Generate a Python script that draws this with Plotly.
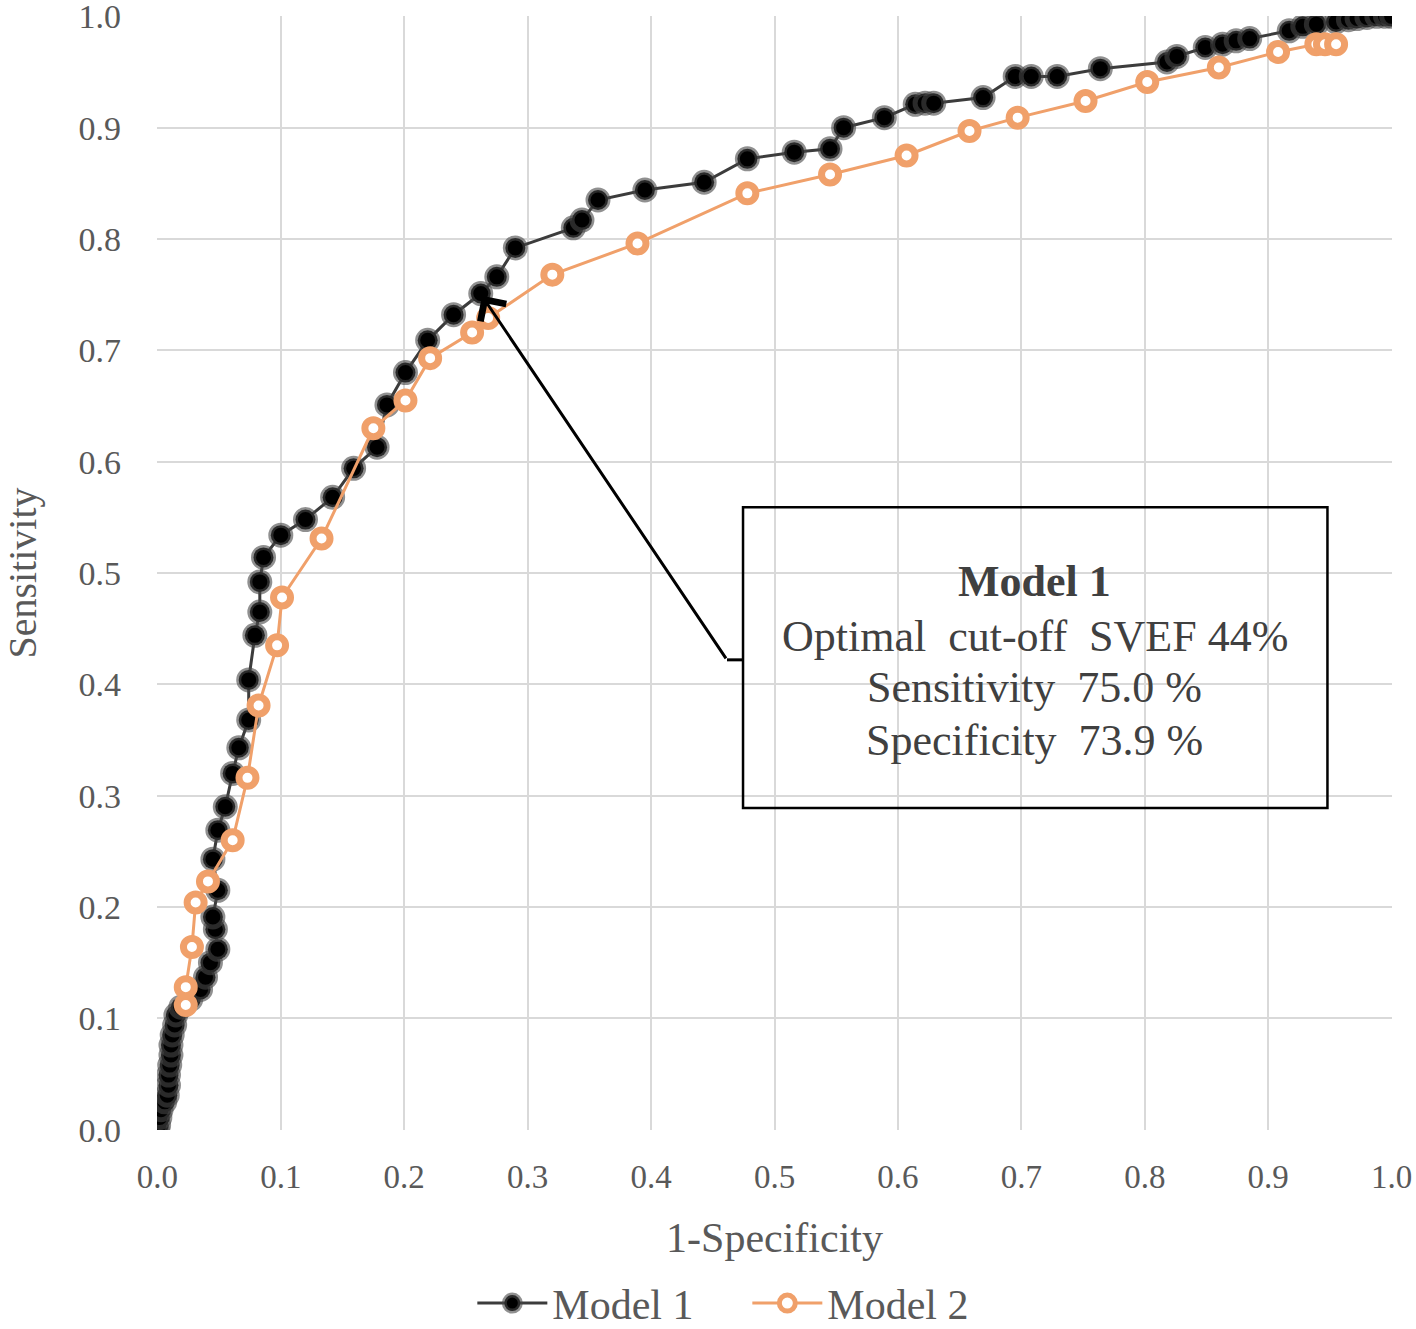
import plotly.graph_objects as go

# Model 1 ROC points (1-Specificity, Sensitivity)
m1_x = [0.000, 0.001, 0.002, 0.003, 0.006, 0.008, 0.009, 0.009, 0.010, 0.011,
        0.011, 0.012, 0.014, 0.015, 0.019, 0.027, 0.035, 0.039, 0.043, 0.049,
        0.047, 0.045, 0.049, 0.045, 0.049, 0.055, 0.061, 0.066, 0.074, 0.074,
        0.079, 0.083, 0.083, 0.086, 0.100, 0.120, 0.142, 0.159, 0.178, 0.186,
        0.201, 0.219, 0.240, 0.262, 0.275, 0.290, 0.337, 0.344, 0.357, 0.395,
        0.443, 0.478, 0.516, 0.545, 0.556, 0.589, 0.614, 0.622, 0.629, 0.669,
        0.695, 0.708, 0.729, 0.764, 0.818, 0.826, 0.849, 0.863, 0.874, 0.885,
        0.917, 0.928, 0.939, 0.955, 0.965, 0.972, 0.980, 0.988, 0.995, 1.000]
m1_y = [0.000, 0.004, 0.011, 0.018, 0.025, 0.031, 0.040, 0.049, 0.058, 0.067,
        0.076, 0.085, 0.094, 0.103, 0.110, 0.117, 0.126, 0.137, 0.150, 0.162,
        0.180, 0.191, 0.215, 0.243, 0.269, 0.290, 0.320, 0.343, 0.368, 0.404,
        0.444, 0.465, 0.492, 0.514, 0.534, 0.548, 0.568, 0.594, 0.613, 0.651,
        0.680, 0.709, 0.732, 0.751, 0.766, 0.792, 0.810, 0.817, 0.835, 0.844,
        0.851, 0.872, 0.878, 0.881, 0.900, 0.909, 0.921, 0.922, 0.922, 0.927,
        0.946, 0.946, 0.946, 0.953, 0.959, 0.964, 0.972, 0.975, 0.978, 0.980,
        0.987, 0.991, 0.993, 0.995, 0.997, 0.998, 0.999, 1.000, 1.000, 1.000]

# Model 2 ROC points
m2_x = [0.023, 0.023, 0.028, 0.031, 0.041, 0.061, 0.073, 0.082, 0.097, 0.101,
        0.133, 0.175, 0.201, 0.221, 0.255, 0.268, 0.320, 0.389, 0.478, 0.545,
        0.607, 0.658, 0.697, 0.752, 0.802, 0.860, 0.908, 0.939, 0.946, 0.955]
m2_y = [0.112, 0.128, 0.164, 0.204, 0.223, 0.260, 0.316, 0.381, 0.435, 0.478,
        0.531, 0.630, 0.655, 0.693, 0.716, 0.729, 0.768, 0.796, 0.841, 0.858,
        0.875, 0.897, 0.909, 0.924, 0.941, 0.954, 0.968, 0.975, 0.975, 0.975]

tick_vals = [0.0, 0.1, 0.2, 0.3, 0.4, 0.5, 0.6, 0.7, 0.8, 0.9, 1.0]
tick_text = ["0.0", "0.1", "0.2", "0.3", "0.4", "0.5", "0.6", "0.7", "0.8", "0.9", "1.0"]

box_lines = ["<b>Model 1</b>",
             "Optimal\u00a0 cut-off\u00a0 SVEF 44%",
             "Sensitivity\u00a0 75.0 %",
             "Specificity\u00a0 73.9 %"]

FONT = "Liberation Serif, Times New Roman, serif"
TXT = "#595959"
ORANGE = "#F0A06A"

fig = go.Figure()
fig.add_trace(go.Scatter(
    x=m1_x, y=m1_y, mode="lines+markers", name="Model 1",
    line=dict(color="#3c3c3c", width=3),
    marker=dict(symbol="circle", size=20, color="black",
                line=dict(color="rgba(70,70,70,0.6)", width=5)),
))
fig.add_trace(go.Scatter(
    x=m2_x, y=m2_y, mode="lines+markers", name="Model 2",
    line=dict(color=ORANGE, width=3),
    marker=dict(symbol="circle", size=17, color="white",
                line=dict(color=ORANGE, width=7)),
))

axis_common = dict(
    range=[-0.0003, 1.0003], tickvals=tick_vals, ticktext=tick_text,
    showgrid=True, gridcolor="#d9d9d9", gridwidth=2,
    zeroline=False, showline=False, ticks="",
    ticklabeloverflow="allow",
)

fig.update_xaxes(**axis_common, ticklabelstandoff=24,
                 tickfont=dict(family=FONT, size=33, color=TXT),
                 title=dict(text="1-Specificity", font=dict(family=FONT, size=42, color=TXT), standoff=28))
fig.update_yaxes(**axis_common, ticklabelstandoff=35,
                 tickfont=dict(family=FONT, size=34, color=TXT),
                 title=dict(text="Sensitivity", font=dict(family=FONT, size=40, color=TXT), standoff=40))

# annotation box
bx0, bx1, by0, by1 = 0.4745, 0.948, 0.289, 0.559
fig.add_shape(type="rect", xref="x", yref="y", x0=bx0, x1=bx1, y0=by0, y1=by1,
              line=dict(color="black", width=2.5), fillcolor="rgba(0,0,0,0)")
elbow_x, elbow_y = 0.4615, 0.422
fig.add_shape(type="line", xref="x", yref="y", x0=bx0, x1=elbow_x, y0=elbow_y, y1=elbow_y,
              line=dict(color="black", width=3))
fig.add_annotation(x=0.263, y=0.749, ax=elbow_x, ay=elbow_y, xref="x", yref="y",
                   axref="x", ayref="y", text="", showarrow=True,
                   arrowhead=4, arrowsize=2, arrowwidth=3, arrowcolor="black")

line_y = [0.492, 0.443, 0.397, 0.350]
for txt, yy in zip(box_lines, line_y):
    fig.add_annotation(x=0.711, y=yy, xref="x", yref="y", text=txt, showarrow=False,
                       xanchor="center", yanchor="middle",
                       font=dict(family=FONT, size=44, color="#404040"))

fig.update_layout(
    width=1416, height=1329,
    margin=dict(l=157, r=24, t=16, b=199, autoexpand=False),
    paper_bgcolor="white", plot_bgcolor="white",
    showlegend=True,
    legend=dict(orientation="h", x=0.478, xanchor="center", y=-0.125, yanchor="top",
                font=dict(family=FONT, size=42, color=TXT), itemwidth=70,
                entrywidth=190, entrywidthmode="pixels",
                bgcolor="rgba(0,0,0,0)"),
)

fig.write_html("out.html", config={"displayModeBar": False},
               post_script="document.body.style.margin='0';document.body.style.overflow='hidden';")
